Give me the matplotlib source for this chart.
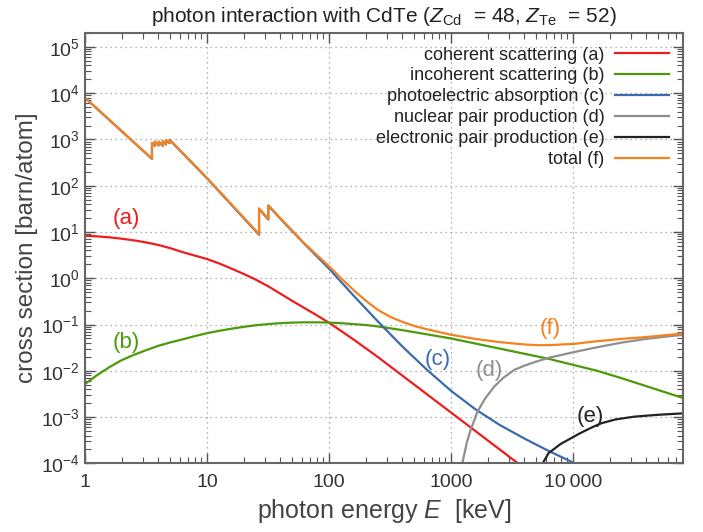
import numpy as np
import matplotlib
matplotlib.use("Agg")
import matplotlib.pyplot as plt
from matplotlib.ticker import LogLocator, FixedLocator, FixedFormatter, NullFormatter

plt.rcParams['font.family'] = ['Liberation Sans', 'DejaVu Sans']
plt.rcParams['mathtext.fontset'] = 'custom'
plt.rcParams['mathtext.rm'] = 'Liberation Sans'
plt.rcParams['mathtext.it'] = 'Liberation Sans:italic'

# values, as log10(E/keV) and log10(sigma/(barn/atom))
coh_logE = [0.0, 0.1, 0.2, 0.3, 0.4, 0.5, 0.6, 0.7, 0.8, 0.9, 1.0, 1.1, 1.2, 1.3, 1.4,
            1.5, 1.6, 1.7, 1.8, 1.9, 2.0, 2.2, 2.4, 2.6, 2.8, 3.0, 3.2, 3.4, 3.6]
coh_logS = [0.92, 0.905, 0.885, 0.855, 0.82, 0.775, 0.72, 0.65, 0.565, 0.49, 0.416, 0.32, 0.21, 0.095, -0.03,
            -0.17, -0.33, -0.49, -0.645, -0.80, -0.96, -1.32, -1.70, -2.10, -2.50, -2.9, -3.3, -3.7, -4.1]

incoh_logE = [0.0, 0.1, 0.2, 0.3, 0.4, 0.5, 0.6, 0.7, 0.8, 0.9, 1.0, 1.1, 1.2, 1.3, 1.4, 1.5, 1.6,
              1.7, 1.8, 1.9, 2.0, 2.1, 2.2, 2.3, 2.4, 2.5, 2.6, 2.8, 3.0, 3.2, 3.4, 3.6, 3.8,
              4.0, 4.2, 4.4, 4.6, 4.8, 4.91]
incoh_logS = [-2.284, -2.09, -1.92, -1.77, -1.655, -1.555, -1.46, -1.385, -1.32, -1.25, -1.186, -1.135,
              -1.09, -1.05, -1.015, -0.99, -0.97, -0.958, -0.952, -0.952, -0.957, -0.97, -0.99, -1.01,
              -1.04, -1.08, -1.12, -1.21, -1.30, -1.41, -1.52, -1.63, -1.74, -1.87, -2.0, -2.16,
              -2.33, -2.5, -2.593]

photo_logE = [0.0, 0.5486, 0.5487, 0.5714, 0.5715, 0.6040, 0.6041, 0.6376, 0.6377, 0.6638, 0.6639,
              0.6936, 0.6937, 1.0, 1.4266, 1.4267, 1.5025, 1.5026, 1.6, 1.8, 2.0, 2.2, 2.4,
              2.6, 2.8, 3.0, 3.2, 3.4, 3.6, 3.8, 4.0, 4.2]
photo_logS = [3.90, 2.58, 2.92, 2.86, 2.95, 2.87, 2.95, 2.86, 2.96, 2.89, 2.98,
              2.92, 2.99, 2.16, 0.94, 1.50, 1.27, 1.57, 1.29, 0.74, 0.21, -0.37, -0.93,
              -1.47, -1.97, -2.43, -2.83, -3.17, -3.46, -3.73, -3.98, -4.22]

npair_logE = [3.02, 3.05, 3.093, 3.13, 3.161, 3.218, 3.28, 3.355, 3.43, 3.519, 3.6, 3.7, 3.8,
              4.0, 4.2, 4.4, 4.6, 4.8, 4.91]
npair_logS = [-6.0, -4.8, -4.0, -3.55, -3.28, -2.88, -2.6, -2.34, -2.15, -1.98, -1.89, -1.80, -1.72,
              -1.60, -1.49, -1.39, -1.31, -1.25, -1.22]

epair_logE = [3.70, 3.752, 3.8, 3.9, 3.958, 4.05, 4.15, 4.232, 4.35, 4.505, 4.7, 4.91]
epair_logS = [-4.4, -4.0, -3.78, -3.58, -3.496, -3.36, -3.23, -3.134, -3.05, -2.99, -2.95, -2.918]

total_logE = [0.0, 0.5486, 0.5487, 0.5714, 0.5715, 0.6040, 0.6041, 0.6376, 0.6377, 0.6638, 0.6639,
              0.6936, 0.6937, 1.0, 1.4266, 1.4267, 1.5025, 1.5026, 1.6, 1.8, 2.0, 2.1, 2.2, 2.3,
              2.4, 2.5, 2.6, 2.7, 2.8, 3.0, 3.2, 3.4, 3.6, 3.7, 3.8, 4.0, 4.2, 4.4, 4.6, 4.8, 4.91]
total_logS = [3.90, 2.585, 2.925, 2.865, 2.955, 2.875, 2.955, 2.865, 2.965, 2.895, 2.985,
              2.925, 2.995, 2.17, 0.955, 1.51, 1.28, 1.58, 1.30, 0.75, 0.26, 0.0, -0.25, -0.48,
              -0.68, -0.83, -0.94, -1.03, -1.10, -1.22, -1.31, -1.38, -1.43, -1.445, -1.445,
              -1.42, -1.36, -1.31, -1.27, -1.22, -1.19]

series = [
    ('coherent scattering (a)', coh_logE, coh_logS, '#ee1c1c'),
    ('incoherent scattering (b)', incoh_logE, incoh_logS, '#4c9a0a'),
    ('photoelectric absorption (c)', photo_logE, photo_logS, '#3a6cad'),
    ('nuclear pair production (d)', npair_logE, npair_logS, '#8f8f8f'),
    ('electronic pair production (e)', epair_logE, epair_logS, '#222222'),
    ('total (f)', total_logE, total_logS, '#f5821f'),
]

# curve tags: (text, E, sigma)
tags = [('(a)', 2.17, 19.4), ('(b)', 2.17, 0.041), ('(c)', 785, 0.0172),
        ('(d)', 2060, 0.0101), ('(e)', 13930, 1.02e-3), ('(f)', 6500, 0.0836)]

fig = plt.figure(figsize=(7.03, 5.32), dpi=100)
ax = fig.add_axes([0.121, 0.129, 0.8506, 0.809])

for label, le, ls, col in series:
    ax.plot(10 ** np.array(le), 10 ** np.array(ls), color=col, lw=1.6, label=label)

for (txt, e, s), (_, _, _, col) in zip(tags, series):
    ax.text(e, s, txt, color=col, fontsize=16, ha='center', va='center')

ax.set_xscale('log')
ax.set_yscale('log')
ax.set_xlim(1, 8e4)
ax.set_ylim(1e-4, 2e5)

ax.xaxis.set_major_locator(FixedLocator([1, 10, 100, 1000, 10000]))
ax.xaxis.set_major_formatter(FixedFormatter(['1', '10', '100', '1000', '10\u2009000']))
ax.xaxis.set_minor_locator(LogLocator(base=10, subs=np.arange(2, 10), numticks=20))
ax.xaxis.set_minor_formatter(NullFormatter())
ax.yaxis.set_major_locator(LogLocator(base=10, numticks=20))
ax.yaxis.set_minor_locator(LogLocator(base=10, subs=np.arange(2, 10), numticks=20))
ax.yaxis.set_minor_formatter(NullFormatter())

ax.tick_params(which='both', direction='in', top=True, right=True, colors='#555555',
               labelcolor='#333333', labelsize=14)
ax.tick_params(axis='x', which='major', pad=8)
ax.tick_params(which='major', length=7, width=1.0)
ax.tick_params(which='minor', length=4, width=0.8)
ax.grid(True, which='major', ls=(0, (1, 3)), color='#999999', lw=0.9)
for sp in ax.spines.values():
    sp.set_color('#666666')
    sp.set_linewidth(1.5)

ax.set_title('photon interaction with CdTe ($Z_{\\rm Cd}$  = 48, $Z_{\\rm Te}$  = 52)',
             fontsize=15, color='#222222', pad=8)
ax.set_xlabel('photon energy $E$  [keV]', fontsize=18, color='#444444', labelpad=4)
ax.set_ylabel('cross section [barn/atom]', fontsize=17.5, color='#444444', labelpad=2)

leg = ax.legend(loc='upper right', frameon=False, markerfirst=False, fontsize=13,
                labelspacing=0.22, handlelength=3.0, handletextpad=0.6,
                borderaxespad=0.35)
for t in leg.get_texts():
    t.set_color('#222222')
    t.set_ha('right')
leg._legend_box.align = 'right'

fig.savefig('out.png', dpi=100)
